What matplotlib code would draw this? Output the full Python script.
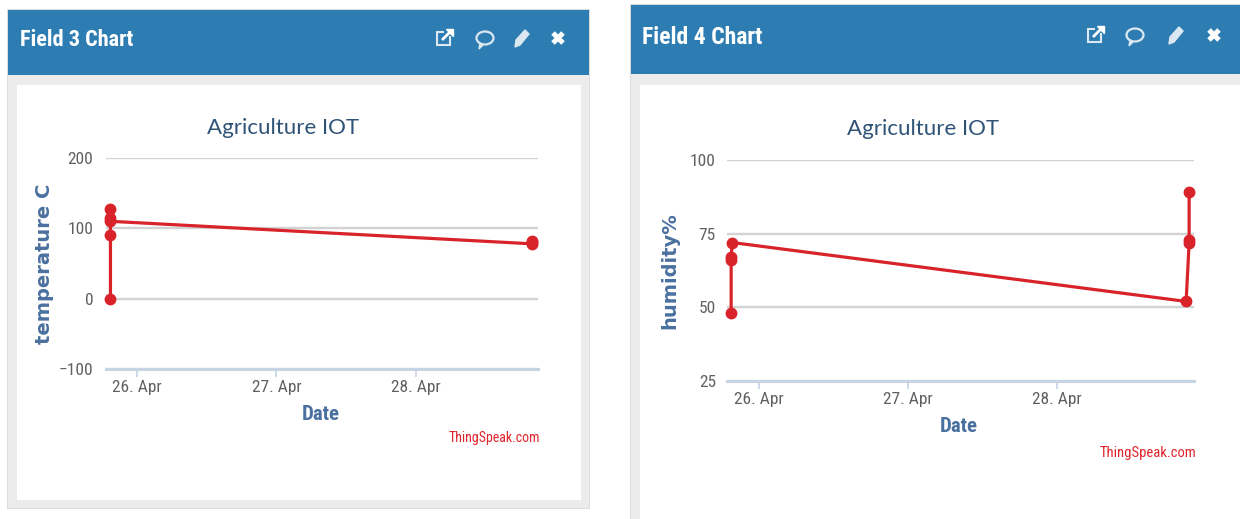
import numpy as np
import pandas as pd
import matplotlib
matplotlib.use('Agg')
import matplotlib.pyplot as plt
import matplotlib.dates as mdates
from matplotlib.patches import Rectangle, Polygon, Ellipse

W, H = 1240, 519
NARROW = ['Roboto Condensed', 'Roboto', 'DejaVu Sans']

# values
temp_times = ['2018-04-25 19:26', '2018-04-25 19:26', '2018-04-25 19:26', '2018-04-25 19:26',
              '2018-04-25 19:26', '2018-04-28 19:55', '2018-04-28 19:55', '2018-04-28 19:55']
temp_values = [0, 90, 127, 114, 110, 78, 82, 80]
temp_ticks = [-100, 0, 100, 200]

hum_times = ['2018-04-25 19:30', '2018-04-25 19:30', '2018-04-25 19:30', '2018-04-25 19:40',
             '2018-04-28 20:47', '2018-04-28 21:16', '2018-04-28 21:16', '2018-04-28 21:16']
hum_values = [48, 66, 67, 72, 52, 72, 73, 89]
hum_ticks = [25, 50, 75, 100]

date_ticks = ['2018-04-26', '2018-04-27', '2018-04-28']

fig = plt.figure(figsize=(W / 100, H / 100), dpi=100, facecolor='white')

# background layer in pixel coordinates
bg = fig.add_axes([0, 0, 1, 1], zorder=0)
bg.set_xlim(0, W)
bg.set_ylim(H, 0)
bg.axis('off')


def box(x0, y0, x1, y1, color, **kw):
    bg.add_patch(Rectangle((x0, y0), x1 - x0, y1 - y0, facecolor=color, edgecolor='none', **kw))


def icons(x_ext, x_chat, x_pen, x_cross, yc):
    # external link
    bg.add_patch(Rectangle((x_ext - 7, yc - 6), 13, 13, fill=False, edgecolor='#dbe8f2', lw=1.5))
    box(x_ext, yc - 10, x_ext + 9, yc - 2, '#2e7db2')
    bg.plot([x_ext - 1, x_ext + 7], [yc + 1, yc - 7], color='white', lw=2)
    bg.add_patch(Polygon([[x_ext + 2, yc - 9], [x_ext + 9, yc - 9], [x_ext + 9, yc - 2]], color='white'))
    # speech bubble
    bg.add_patch(Ellipse((x_chat, yc), 17, 13, fill=False, edgecolor='#dbe8f2', lw=1.6))
    bg.add_patch(Polygon([[x_chat - 5, yc + 5], [x_chat - 2, yc + 7], [x_chat - 6, yc + 11]], color='#dbe8f2'))
    # pencil
    bg.add_patch(Polygon([[x_pen - 7, yc + 9], [x_pen - 6, yc + 2], [x_pen + 3, yc - 8],
                          [x_pen + 7, yc - 4], [x_pen - 2, yc + 7]], color='#dbe8f2'))
    # cross
    bg.plot([x_cross - 5, x_cross + 5], [yc - 5, yc + 5], color='white', lw=3.6, solid_capstyle='butt')
    bg.plot([x_cross - 5, x_cross + 5], [yc + 5, yc - 5], color='white', lw=3.6, solid_capstyle='butt')


def panel(px0, py0, px1, py1, head_bottom, wx0, wy0, wx1, wy1, title, tx, ty, tsize):
    box(px0 - 1, py0 - 1, px1 + 1, py1 + 1, '#dcdcdc')
    box(px0, py0, px1, py1, '#ececec')
    box(px0, py0, px1, head_bottom, '#2e7db2')
    box(wx0, wy0, wx1, wy1, 'white')
    bg.text(tx, ty, title, color='white', fontsize=tsize, fontweight='bold',
            family=NARROW, ha='left', va='center')


panel(8, 10, 589, 508, 75, 17, 85, 581, 500, 'Field 3 Chart', 20, 39.5, 16)
panel(631, 5, 1240, 519, 74, 640, 85, 1240, 519, 'Field 4 Chart', 642, 37, 17)
icons(444, 485, 522, 558, 38)
icons(1095, 1135, 1176, 1214, 35)


def chart(x0, x1, ytop, ybot, times, values, yticks, xlim, ylabel, ylab_x, ypad,
          title_x, title_y, xlab_x, xlab_y, brand_x, brand_y, brand_size):
    ax = fig.add_axes([x0 / W, 1 - ybot / H, (x1 - x0) / W, (ybot - ytop) / H], zorder=1)
    ax.patch.set_alpha(0)
    ax.plot(pd.to_datetime(times), values, color='#d9232a', lw=2.3, marker='o', ms=7.5,
            mec='#d9232a', clip_on=False, zorder=3)
    ax.set_xlim(pd.Timestamp(xlim[0]), pd.Timestamp(xlim[1]))
    ax.set_ylim(yticks[0], yticks[-1])
    ax.set_yticks(yticks)
    ax.set_xticks(pd.to_datetime(date_ticks))
    ax.xaxis.set_major_formatter(mdates.DateFormatter('%d. %b'))
    ax.grid(axis='y', color='#d2d2d2', lw=1.7, zorder=1)
    for s in ['top', 'left', 'right']:
        ax.spines[s].set_visible(False)
    ax.spines['bottom'].set_color('#c6d4e4')
    ax.spines['bottom'].set_linewidth(2.2)
    ax.tick_params(axis='y', length=0, pad=ypad, labelcolor='#606060', labelsize=12.5)
    ax.tick_params(axis='x', length=6, width=1.2, color='#c6d4e4', pad=2,
                   labelcolor='#606060', labelsize=12.5)
    for lab in ax.get_xticklabels() + ax.get_yticklabels():
        lab.set_family(NARROW)
    fig.text(title_x / W, 1 - title_y / H, 'Agriculture IOT', color='#2f5478', fontsize=16,
             family=['Lato', 'DejaVu Sans'], ha='center', va='center')
    fig.text(ylab_x / W, 1 - (ytop + ybot) / 2 / H, ylabel, color='#4a709f', fontsize=14,
             fontweight='bold', rotation=90, ha='center', va='center')
    fig.text(xlab_x / W, 1 - xlab_y / H, 'Date', color='#4a709f', fontsize=15,
             family=NARROW, fontweight='bold', ha='center', va='center')
    fig.text(brand_x / W, 1 - brand_y / H, 'ThingSpeak.com', color='#e0242c', fontsize=brand_size,
             family=NARROW, ha='right', va='center')
    return ax


chart(106, 538, 158, 369, temp_times, temp_values, temp_ticks,
      ('2018-04-25 18:40', '2018-04-28 21:00'), 'temperature C', 45, 9,
      283, 128, 321, 414, 540, 438, 10)
chart(727, 1194, 160, 381, hum_times, hum_values, hum_ticks,
      ('2018-04-25 18:50', '2018-04-28 22:03'), 'humidity%', 670, 8,
      923, 129, 959, 427, 1196, 453, 10.5)

fig.savefig('out.png', dpi=100)
